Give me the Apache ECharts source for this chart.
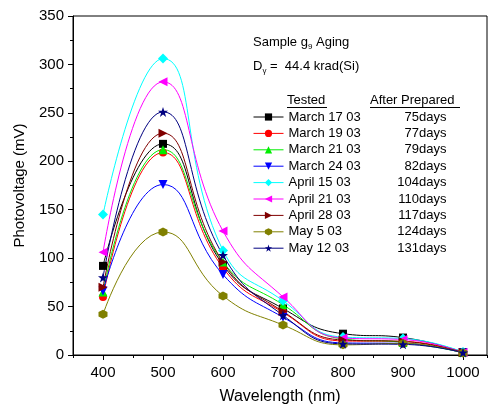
<!DOCTYPE html>
<html>
<head>
<meta charset="utf-8">
<script src="https://cdn.jsdelivr.net/npm/echarts@6/dist/echarts.min.js"></script>
<style>html,body{margin:0;padding:0;background:#fff}#c{width:490px;height:410px}</style>
</head>
<body>
<div id="c"></div>
<script>
// ---- data ----
const wavelengths = [400, 500, 600, 700, 800, 900, 1000];
const testedDates = ['March 17 03','March 19 03','March 21 03','March 24 03','April 15 03','April 21 03','April 28 03','May 5 03','May 12 03'];
const daysAfter = ['75days','77days','79days','82days','104days','110days','117days','124days','131days'];
const march17 = [92, 218, 93, 48, 22, 18, 3];
const march19 = [60, 209, 90, 44, 14.5, 14, 2.5];
const march21 = [65, 212, 96, 52, 16.5, 13, 2.5];
const march24 = [66, 176, 83, 39, 12.5, 12, 2];
const april15 = [145, 306, 108, 56, 18.5, 17, 3];
const april21 = [106, 282, 128, 60, 17.5, 16, 2.5];
const april28 = [70, 229, 96, 45, 15.5, 14, 2.5];
const may5 = [42, 127, 61, 31, 10.5, 12, 2];
const may12 = [80, 251, 103, 41, 11.5, 11, 2.5];

const allSeries = [march17, march19, march21, march24, april15, april21, april28, may5, may12];
const colors = ['#000000','#ff0000','#00ee00','#0000ff','#00ffff','#ff00ff','#800000','#808000','#000080'];
const symbols = [
  'rect','circle','triangle','path://M0,0 L10,0 L5,9 Z','diamond',
  'path://M9,0 L9,10 L0,5 Z','path://M0,0 L0,10 L9,5 Z',
  'path://M5,0 L9.33,2.5 L9.33,7.5 L5,10 L0.67,7.5 L0.67,2.5 Z',
  'path://M50,0 L61.8,35.4 L99,35.4 L69,57.3 L80.4,92.7 L50,70.8 L19.6,92.7 L31,57.3 L1,35.4 L38.2,35.4 Z'
];
const sizes = [8, 8, 9, 9, 10, 9, 9, 9, 10];

const font = 'Liberation Sans, Arial, sans-serif';
const chart = echarts.init(document.getElementById('c'));

const series = allSeries.map((vals, i) => ({
  name: testedDates[i],
  type: 'line',
  smooth: 0.5,
  data: wavelengths.map((w, j) => [w, vals[j]]),
  symbol: symbols[i],
  symbolSize: sizes[i],
  showAllSymbol: true,
  lineStyle: { width: 1, color: colors[i] },
  itemStyle: { color: colors[i] },
  xAxisIndex: 0,
  animation: false
}));

const daysMap = {};
testedDates.forEach((d, i) => daysMap[d] = daysAfter[i]);

chart.setOption({
  animation: false,
  backgroundColor: '#fff',
  grid: { left: 73, top: 16, right: 3, bottom: 55, show: true, borderColor: '#000', borderWidth: 1, backgroundColor: 'transparent' },
  xAxis: [{
    type: 'value', min: 350, max: 1040, splitNumber: 7, minInterval: 100, maxInterval: 100,
    name: 'Wavelength (nm)', nameLocation: 'middle', nameGap: 34,
    nameTextStyle: { fontFamily: font, fontSize: 16, color: '#000' },
    axisLine: { lineStyle: { color: '#000', width: 1 } },
    axisTick: { length: 5, lineStyle: { color: '#000' } },
    axisLabel: { fontFamily: font, fontSize: 15, color: '#000', margin: 10, showMinLabel: false, showMaxLabel: false, formatter: v => String(v) },
    splitLine: { show: false }
  }, {
    type: 'value', min: 350, max: 1040, interval: 50, position: 'bottom',
    axisLine: { show: false },
    axisTick: { length: 3, lineStyle: { color: '#000' } },
    axisLabel: { show: false },
    splitLine: { show: false }
  }],
  yAxis: {
    type: 'value', min: 0, max: 350, interval: 50,
    name: 'Photovoltage (mV)', nameLocation: 'middle', nameGap: 46,
    nameTextStyle: { fontFamily: font, fontSize: 15, color: '#000' },
    axisLine: { show: true, lineStyle: { color: '#000', width: 1 } },
    axisTick: { show: true, length: 5, lineStyle: { color: '#000' } },
    minorTick: { show: true, splitNumber: 2, length: 3, lineStyle: { color: '#000' } },
    axisLabel: { fontFamily: font, fontSize: 15, color: '#000', margin: 9 },
    splitLine: { show: false }
  },
  legend: {
    orient: 'vertical', left: 253, top: 109, padding: 0,
    itemWidth: 30, itemHeight: 9, itemGap: 0.4,
    lineStyle: { width: 1 },
    data: testedDates,
    formatter: name => '{a|' + name + '}{b|' + daysMap[name] + '}',
    textStyle: {
      fontFamily: font, fontSize: 13, color: '#000', lineHeight: 16,
      rich: {
        a: { fontFamily: font, fontSize: 13, width: 98, lineHeight: 16 },
        b: { fontFamily: font, fontSize: 13, width: 60, align: 'right', lineHeight: 16 }
      }
    }
  },
  graphic: [
    { type: 'text', left: 253, top: 36, style: {
      text: '{n|Sample g}{s|9}{n| Aging}', font: '13px ' + font, fill: '#000',
      rich: { n: { fontSize: 13, fontFamily: font, lineHeight: 16, verticalAlign: 'middle' },
              s: { fontSize: 8, fontFamily: font, lineHeight: 16, verticalAlign: 'bottom', padding: [6, 0, 0, 0] } } } },
    { type: 'text', left: 253, top: 57, style: {
      text: '{n|D}{s|γ}{n| =  44.4 krad(Si)}', font: '13px ' + font, fill: '#000',
      rich: { n: { fontSize: 13, fontFamily: font, lineHeight: 16 },
              s: { fontSize: 8, fontFamily: font, lineHeight: 16, padding: [10, 0, 0, 0] } } } },
    { type: 'text', left: 287, top: 94, style: { text: 'Tested', font: '13px ' + font, fill: '#000' } },
    { type: 'line', shape: { x1: 287, y1: 107.5, x2: 327, y2: 107.5 }, style: { stroke: '#000', lineWidth: 1 } },
    { type: 'text', left: 370, top: 94, style: { text: 'After Prepared', font: '13px ' + font, fill: '#000' } },
    { type: 'line', shape: { x1: 370, y1: 107.5, x2: 460, y2: 107.5 }, style: { stroke: '#000', lineWidth: 1 } }
  ],
  series: series
});
</script>
</body>
</html>
